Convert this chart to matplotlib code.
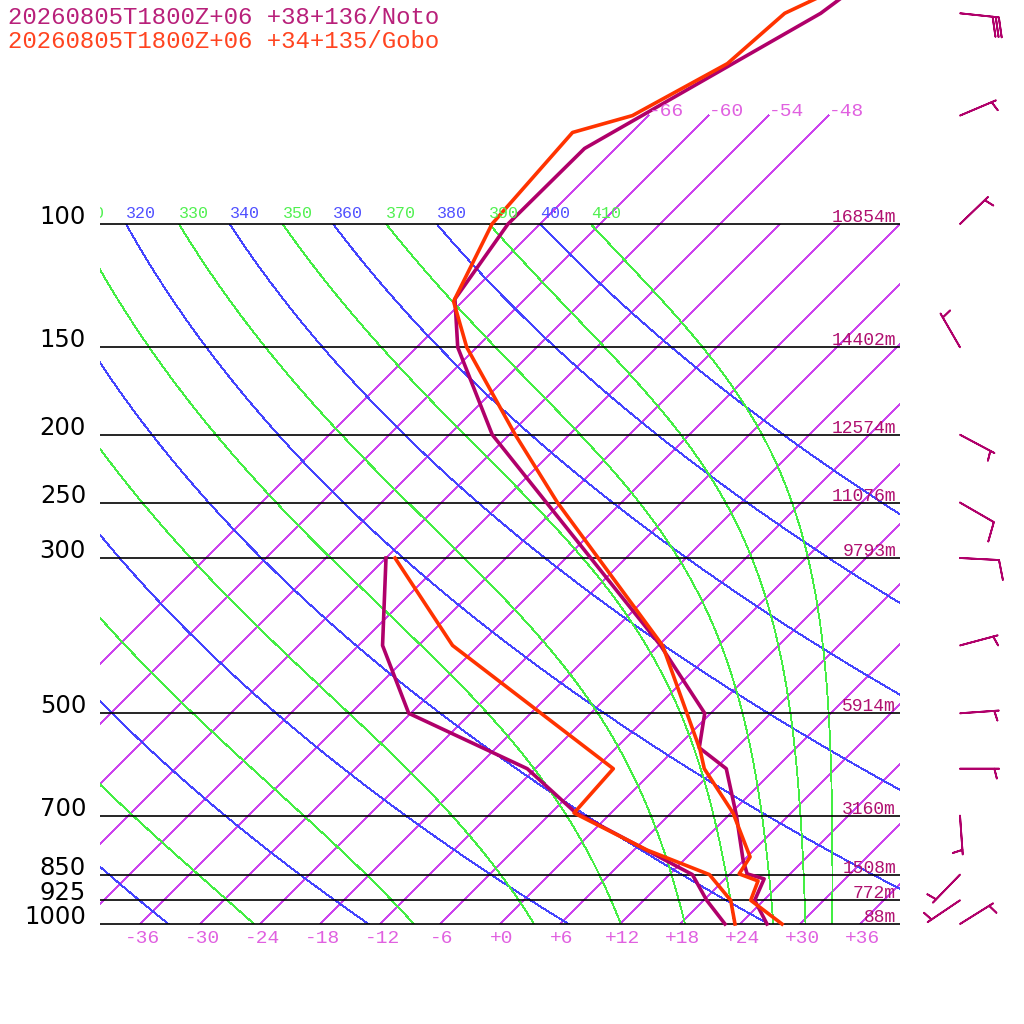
import numpy as np
import matplotlib
matplotlib.use('Agg')
import matplotlib.pyplot as plt
from matplotlib.patches import Rectangle
from matplotlib import transforms

# ---- values ----
title_noto = '20260805T1800Z+06 +38+136/Noto'
title_gobo = '20260805T1800Z+06 +34+135/Gobo'

noto_t_p = [1000, 925, 862, 848, 810, 700, 600, 560, 500, 400, 200, 150, 128, 100, 78, 50, 45]
noto_t = [26.7, 23.1, 21.9, 19.7, 17.9, 12.8, 7.1, 2.3, -0.6, -11.8, -49.7, -61.9, -67.0, -69.2, -69.1, -59.0, -57.9]
noto_td_p = [1000, 925, 850, 692, 600, 500, 400, 300]
noto_td = [22.5, 18.3, 14.3, -3.7, -12.8, -30.2, -39.6, -48.0]

gobo_t_p = [1000, 925, 868, 848, 802, 694, 600, 564, 400, 250, 200, 150, 129, 100, 74, 70, 59, 50, 45]
gobo_t = [28.2, 22.7, 21.5, 18.9, 18.3, 12.2, 4.9, 2.6, -11.6, -36.4, -47.4, -61.0, -66.9, -70.8, -71.9, -67.6, -63.3, -62.6, -59.0]
gobo_td_p = [1000, 925, 850, 784, 694, 600, 400, 300]
gobo_td = [23.5, 20.7, 16.0, 7.3, -3.7, -4.2, -32.6, -47.1]

height_p = [100, 150, 200, 250, 300, 500, 700, 850, 925, 1000]
heights = [16854, 14402, 12574, 11076, 9793, 5914, 3160, 1508, 772, 88]

wind_p = [50, 70, 100, 150, 200, 250, 300, 400, 500, 600, 700, 850, 925, 1000]
wind_dir = [96, 67, 46, 330, 118, 120, 93, 75, 86, 90, 176, 224, 236, 58]
wind_spd = [30, 5, 5, 5, 5, 10, 10, 5, 5, 5, 5, 5, 5, 5]

isotherms = list(range(-66, 37, 6))
dry_thetas = list(range(240, 401, 20))
moist_thetas = list(range(250, 411, 20))

NOTO = '#B0006A'
GOBO = '#FF3300'
K = 30.4  # skew: degrees per unit of ln(p)


def skew(t, p):
    return np.asarray(t) + K * np.log(1000.0 / np.asarray(p, dtype=float))


def theta_e_sat(tk, p):
    tc = tk - 273.15
    es = 6.112 * np.exp(17.67 * tc / (tc + 243.5))
    es = np.minimum(es, 0.5 * p)
    r = 622.0 * es / (p - es)
    return tk * (1000.0 / p) ** (0.2854 * (1 - 0.28e-3 * r)) * \
        np.exp((3.376 / tk - 0.00254) * r * (1 + 0.81e-3 * r))


def moist_temp(the, p):
    lo = np.full_like(p, 150.0)
    hi = np.full_like(p, 330.0)
    for _ in range(60):
        mid = (lo + hi) / 2
        warm = theta_e_sat(mid, p) > the
        hi = np.where(warm, mid, hi)
        lo = np.where(warm, lo, mid)
    return (lo + hi) / 2 - 273.15


fig = plt.figure(figsize=(10.24, 10.24), dpi=100)
ax = fig.add_axes([0, 0, 1, 1])
ax.set_yscale('log')
ax.set_xlim(-50, 52.4)
ax.set_ylim(1000 * np.exp(100 / 304.0), 1000 * np.exp(-924 / 304.0))
ax.axis('off')

box = transforms.TransformedBbox(transforms.Bbox([[-40, 1000], [40, 100]]), ax.transData)
pp = np.geomspace(1000, 100, 200)
mono = 'Liberation Mono'
grid_kw = dict(lw=0.6, antialiased=False)

# isotherms
for t in isotherms:
    ln, = ax.plot(skew([t, t], [1000, 100]), [1000, 100], color='#CC44EE', **grid_kw)
    ln.set_clip_box(box)
    if t <= -48:
        ax.plot(skew([t, t], [100, 70]), [100, 70], color='#CC44EE', **grid_kw)
        ax.text(skew(t, 70), 70, f'{t:+d}', color='#E060E0', fontsize=14,
                family=mono, ha='left', va='baseline')

lab_up = transforms.offset_copy(ax.transData, fig, y=6, units='dots')
# dry adiabats
for th in dry_thetas:
    tt = th * (pp / 1000.0) ** 0.2857 - 273.15
    ln, = ax.plot(skew(tt, pp), pp, color='#4444FF', **grid_kw)
    ln.set_clip_box(box)
    x100 = skew(tt[-1], 100)
    if x100 > -44:
        ax.text(x100, 100, str(th), color='#5050FF', fontsize=12, family=mono,
                ha='left', va='baseline', transform=lab_up, zorder=3)

# moist adiabats
for th in moist_thetas:
    tt = moist_temp(th, pp)
    ln, = ax.plot(skew(tt, pp), pp, color='#44EE44', **grid_kw)
    ln.set_clip_box(box)
    x100 = skew(tt[-1], 100)
    if x100 > -44:
        ax.text(x100, 100, str(th), color='#50F050', fontsize=12, family=mono,
                ha='left', va='baseline', transform=lab_up, zorder=3)

# hide the part of the labels that falls left of the frame
ax.add_patch(Rectangle((-50, 90), 10, 10, facecolor='white', edgecolor='none', zorder=3.5))

# pressure lines and labels
ax.hlines(height_p, -40, 40, color='black', lw=1.2)
h_up = transforms.offset_copy(ax.transData, fig, y=2, units='dots')
for p, h in zip(height_p, heights):
    ax.text(-41.4, p, str(p), ha='right', va='baseline', fontsize=17.5,
            family='DejaVu Sans', color='black', zorder=4)
    ax.text(39.6, p, f'{h}m', ha='right', va='baseline', fontsize=13,
            family=mono, color='#B01070', transform=h_up)

# temperature labels along the bottom
t_down = transforms.offset_copy(ax.transData, fig, y=-19, units='dots')
for t in range(-36, 37, 6):
    ax.text(t + 0.2, 1000, f'{t:+d}', ha='center', va='baseline', fontsize=14,
            family=mono, color='#E060E0', transform=t_down)

# profiles
ax.plot(skew(noto_t, noto_t_p), noto_t_p, color=NOTO, lw=2.6, clip_on=False)
ax.plot(skew(noto_td, noto_td_p), noto_td_p, color=NOTO, lw=2.6, clip_on=False)
ax.plot(skew(gobo_t, gobo_t_p), gobo_t_p, color=GOBO, lw=2.6, clip_on=False)
ax.plot(skew(gobo_td, gobo_td_p), gobo_td_p, color=GOBO, lw=2.6, clip_on=False)

# wind barbs
d = np.radians(wind_dir)
spd = np.array(wind_spd, dtype=float)
u = -spd * np.sin(d)
v = -spd * np.cos(d)
ax.barbs(np.full(len(wind_p), 46.0), wind_p, u, v, length=7.5, color=NOTO,
         linewidth=1.3, sizes=dict(emptybarb=0.0, spacing=0.08, height=0.5, width=0.25))

fig.text(8 / 1024, 1 - 24 / 1024, title_noto, color='#B8207A', fontsize=17.3,
         family=mono, va='baseline')
fig.text(8 / 1024, 1 - 48 / 1024, title_gobo, color='#FF4420', fontsize=17.3,
         family=mono, va='baseline')

fig.savefig('out.png', dpi=100)
